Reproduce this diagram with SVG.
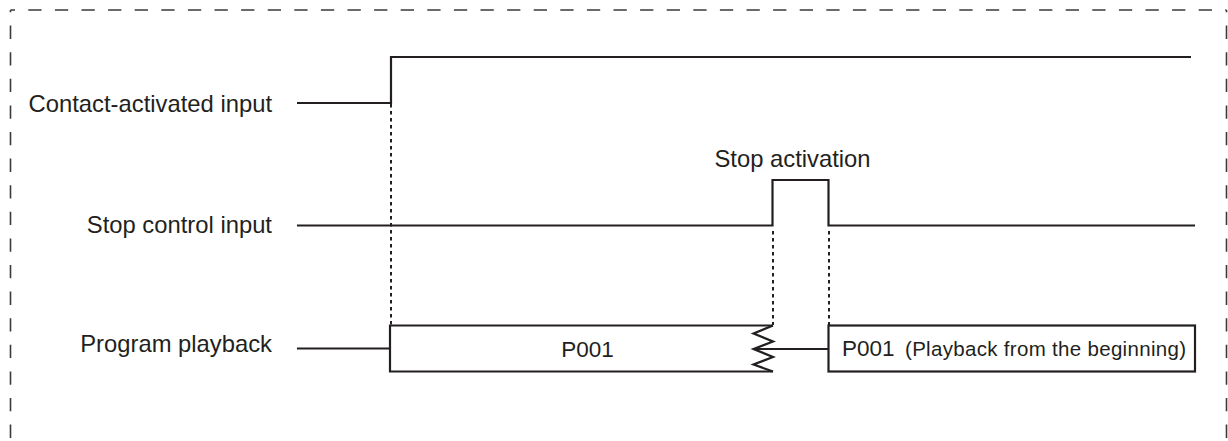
<svg xmlns="http://www.w3.org/2000/svg" width="1228" height="441" viewBox="0 0 1228 441">
<style>
  .frame { fill: none; stroke: #3a3a3a; stroke-width: 1.6; stroke-dasharray: 13.3 13.3; }
  .sig { fill: none; stroke: #231f20; stroke-width: 2.2; stroke-linejoin: miter; }
  .box { fill: #ffffff; stroke: #231f20; stroke-width: 2.2; }
  .dot { fill: none; stroke: #231f20; stroke-width: 2; stroke-dasharray: 3.5 3.5; }
  .lbl { font-family: "Liberation Sans", Arial, Helvetica, sans-serif; font-size: 23.8px; fill: #231f20; }
  .pname { font-family: "Liberation Sans", Arial, Helvetica, sans-serif; font-size: 22.5px; fill: #231f20; }
  .note { font-family: "Liberation Sans", Arial, Helvetica, sans-serif; font-size: 20.5px; fill: #231f20; }
</style>
<rect width="1228" height="441" fill="#ffffff"/>
<g id="frame">
  <path class="frame" d="M10.5 10 H1226.5" stroke-dashoffset="8.8"/>
  <path class="frame" d="M10.5 10 V441" stroke-dashoffset="11"/>
  <path class="frame" d="M1226.5 10 V441" stroke-dashoffset="11"/>
</g>
<g id="connectors">
  <path class="dot" d="M391 104 V325"/>
  <path class="dot" d="M773 231 V325"/>
  <path class="dot" d="M829 231 V325"/>
</g>
<g id="contact-activated-input">
  <text class="lbl" x="272" y="112" text-anchor="end">Contact-activated input</text>
  <path class="sig" d="M297 103 H391 V57 H1191"/>
</g>
<g id="stop-control-input">
  <text class="lbl" x="272" y="233" text-anchor="end">Stop control input</text>
  <path class="sig" d="M297 225.5 H772.5 V180 H828.5 V225.5 H1195"/>
</g>
<g id="stop-activation">
  <text class="lbl" x="792.5" y="167" text-anchor="middle">Stop activation</text>
</g>
<g id="program-playback">
  <text class="lbl" x="272" y="352" text-anchor="end">Program playback</text>
  <path class="sig" d="M297 348.5 H390"/>
  <path class="sig" d="M773 325.5 H390 V371.5 H773"/>
  <path class="sig" d="M773 325.5 L753.5 333.5 L773 341.5 L753.5 349 L773 357 L753.5 364.5 L773 371.5"/>
  <text class="pname" x="587.5" y="357" text-anchor="middle">P001</text>
</g>
<g id="program-restart">
  <path class="sig" d="M753.5 349 H828.5"/>
  <rect class="box" x="828.5" y="325.5" width="366.5" height="46"/>
  <text class="pname" x="842" y="356">P001</text>
  <text class="note" x="905" y="356" textLength="281" lengthAdjust="spacing">(Playback from the beginning)</text>
</g>
</svg>
